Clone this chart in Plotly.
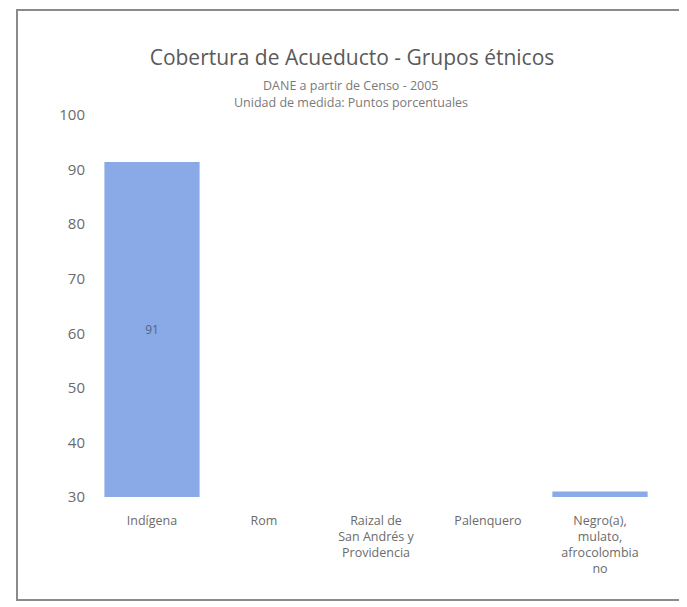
import plotly.graph_objects as go

categories = ["Indígena", "Rom", "Raizal de<br>San Andrés y<br>Providencia", "Palenquero",
              "Negro(a),<br>mulato,<br>afrocolombia<br>no"]
values = [91.4, None, None, None, 31.0]
axis_min = 30
axis_max = 100
y_ticks = [30, 40, 50, 60, 70, 80, 90, 100]

title_text = "Cobertura de Acueducto - Grupos étnicos"
subtitle_lines = ["DANE a partir de Censo - 2005", "Unidad de medida: Puntos porcentuales"]

FONT = "Open Sans, Noto Sans, sans-serif"
GREY = "#6b6b6b"

# the page body has an 8px margin; the figure is sized to fit the window
W, H = 679, 599
L, R, T, B = 88, 31, 107, 110
PH = H - T - B
PW = W - L - R

lengths = [None if v is None else v - axis_min for v in values]
labels = ["" if v is None else f"{v:.0f}" for v in values]

fig = go.Figure(
    go.Bar(
        x=categories,
        y=lengths,
        base=axis_min,
        text=labels,
        marker=dict(color="#89aae6", line=dict(width=0)),
        textposition="inside",
        insidetextanchor="middle",
        textfont=dict(family=FONT, size=12, color="#55657f"),
        hoverinfo="skip",
    )
)

def py(fig_y):
    return (H - B - fig_y) / PH

def px(fig_x):
    return (fig_x - L) / PW

fig.update_layout(
    width=W,
    height=H,
    paper_bgcolor="#ffffff",
    plot_bgcolor="#ffffff",
    margin=dict(l=L, r=R, t=T, b=B),
    bargap=0.15,
    showlegend=False,
    uniformtext=dict(minsize=8, mode="hide"),
    font=dict(family=FONT, color=GREY),
    title=dict(
        text=title_text,
        x=344 / W, xanchor="center",
        y=1 - 50 / H, yanchor="middle",
        font=dict(family=FONT, size=21, color="#5a5a5a"),
    ),
    annotations=[
        dict(text=subtitle_lines[0], xref="paper", yref="paper", x=px(343), y=py(77),
             showarrow=False, font=dict(family=FONT, size=12.5, color="#7a7a7a"), yanchor="middle"),
        dict(text=subtitle_lines[1], xref="paper", yref="paper", x=px(343), y=py(94),
             showarrow=False, font=dict(family=FONT, size=12.5, color="#7a7a7a"), yanchor="middle"),
    ],
    shapes=[
        dict(type="rect", xref="paper", yref="paper",
             x0=px(9), x1=px(673), y0=py(592), y1=py(2),
             line=dict(color="#8a8a8a", width=2), fillcolor="rgba(0,0,0,0)", layer="below"),
    ],
)

fig.update_yaxes(
    range=[axis_min, axis_max],
    tickvals=y_ticks,
    showgrid=False,
    zeroline=False,
    showline=False,
    tickfont=dict(family=FONT, size=15, color=GREY),
    ticklabelstandoff=10,
)
fig.update_xaxes(
    showgrid=False,
    showline=False,
    tickfont=dict(family=FONT, size=12.5, color=GREY),
    ticklabelstandoff=14,
)

fig.write_html("out.html")
